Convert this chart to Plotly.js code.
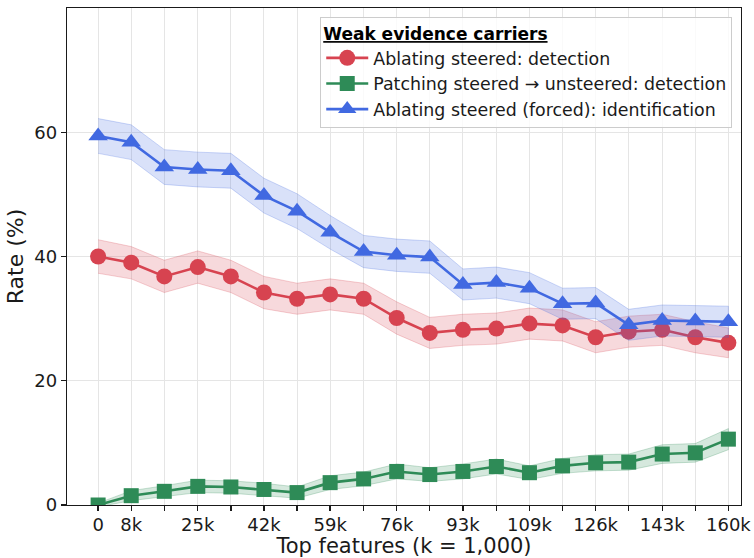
<!DOCTYPE html>
<html>
<head>
<meta charset="utf-8">
<script src="https://cdn.plot.ly/plotly-3.0.1.min.js"></script>
<style>
  html, body { margin: 0; padding: 0; background: #fff; }
  #chart { width: 754px; height: 558px; }
</style>
</head>
<body>
<div id="chart"></div>
<script>
// Number of top features removed/patched (in thousands)
const topFeaturesK = [0, 8.4, 16.8, 25.3, 33.7, 42.1, 50.5, 58.9, 67.4, 75.8,
                      84.2, 92.6, 101.1, 109.5, 117.9, 126.3, 134.7, 143.2, 151.6, 160];
const tickLabels = ['0', '8k', '', '25k', '', '42k', '', '59k', '', '76k',
                    '', '93k', '', '109k', '', '126k', '', '143k', '', '160k'];

// Rates (%) and confidence half-widths per condition
const ablateDetect = [40.0, 39.0, 36.8, 38.3, 36.8, 34.2, 33.2, 33.9, 33.2, 30.1,
                      27.7, 28.2, 28.4, 29.2, 28.9, 27.0, 27.9, 28.2, 27.0, 26.1];
const ablateDetectCI = [2.7, 2.6, 2.6, 2.6, 2.6, 2.6, 2.5, 2.5, 2.5, 2.6,
                        2.5, 2.5, 2.5, 2.5, 2.5, 2.5, 2.5, 2.5, 2.5, 2.4];

const patchDetect = [0.0, 1.5, 2.2, 3.0, 2.9, 2.5, 2.0, 3.6, 4.2, 5.4,
                     4.9, 5.4, 6.2, 5.2, 6.3, 6.8, 6.9, 8.2, 8.4, 10.6];
const patchDetectCI = [0.3, 0.8, 0.9, 1.0, 1.0, 1.0, 0.9, 1.1, 1.1, 1.2,
                       1.1, 1.2, 1.2, 1.1, 1.2, 1.3, 1.3, 1.5, 1.5, 1.7];

const ablateIdent = [59.4, 58.4, 54.4, 54.0, 53.8, 49.8, 47.3, 43.9, 40.8, 40.2,
                     39.9, 35.5, 35.8, 34.9, 32.4, 32.5, 29.0, 29.7, 29.6, 29.5];
const ablateIdentCI = [2.8, 2.8, 2.8, 2.8, 2.8, 2.8, 2.8, 2.7, 2.6, 2.6,
                       2.6, 2.5, 2.5, 2.5, 2.5, 2.5, 2.5, 2.5, 2.5, 2.5];

const seriesNames = ['Ablating steered: detection',
                     'Patching steered \u2192 unsteered: detection',
                     'Ablating steered (forced): identification'];

const FONT = 'DejaVu Sans, Liberation Sans, sans-serif';

function rgba(rgb, a) { return 'rgba(' + rgb.join(',') + ',' + a + ')'; }

// Shaded confidence band: upper edge forward, lower edge back
function band(values, ci, rgb) {
  const upper = values.map((v, i) => v + ci[i]);
  const lower = values.map((v, i) => v - ci[i]);
  return {
    x: topFeaturesK.concat(topFeaturesK.slice().reverse()),
    y: upper.concat(lower.slice().reverse()),
    type: 'scatter', mode: 'lines', fill: 'toself',
    fillcolor: rgba(rgb, 0.2),
    line: { color: rgba(rgb, 0.25), width: 1 },
    hoverinfo: 'skip', showlegend: false
  };
}

function line(values, name, rgb, symbol, size) {
  return {
    x: topFeaturesK, y: values, name: name,
    type: 'scatter', mode: 'lines+markers',
    line: { color: rgba(rgb, 1), width: 2.6 },
    marker: { color: rgba(rgb, 1), symbol: symbol, size: size }
  };
}

const red = [215, 67, 80];
const green = [46, 139, 87];
const blue = [65, 105, 225];

const data = [
  band(ablateDetect, ablateDetectCI, red),
  line(ablateDetect, seriesNames[0], red, 'circle', 16),
  band(patchDetect, patchDetectCI, green),
  line(patchDetect, seriesNames[1], green, 'square', 15),
  band(ablateIdent, ablateIdentCI, blue),
  line(ablateIdent, seriesNames[2], blue, 'triangle-up', 17)
];

const layout = {
  width: 754, height: 558,
  margin: { l: 67, r: 13, t: 8, b: 53 },
  paper_bgcolor: '#ffffff', plot_bgcolor: '#ffffff',
  font: { family: FONT, color: '#1a1a1a' },
  showlegend: true,
  xaxis: {
    range: [-7.9, 163.2],
    tickmode: 'array', tickvals: topFeaturesK, ticktext: tickLabels,
    ticks: 'outside', ticklen: 5, tickwidth: 1.3, tickcolor: '#1a1a1a',
    tickfont: { size: 18, family: FONT },
    ticklabelstandoff: -2,
    showgrid: true, gridcolor: '#e5e5e5', gridwidth: 1,
    showline: true, linecolor: '#1a1a1a', linewidth: 1.3, mirror: true,
    zeroline: false,
    title: { text: 'Top features (k = 1,000)', font: { size: 21, family: FONT }, standoff: 4 }
  },
  yaxis: {
    range: [0, 80],
    tickmode: 'array', tickvals: [0, 20, 40, 60],
    ticks: 'outside', ticklen: 5, tickwidth: 1.3, tickcolor: '#1a1a1a',
    tickfont: { size: 18, family: FONT },
    showgrid: true, gridcolor: '#e5e5e5', gridwidth: 1,
    showline: true, linecolor: '#1a1a1a', linewidth: 1.3, mirror: true,
    zeroline: false,
    title: { text: 'Rate (%)', font: { size: 22, family: FONT }, standoff: 4 }
  },
  legend: {
    x: 0.987, y: 0.982, xanchor: 'right', yanchor: 'top',
    bgcolor: 'rgba(255,255,255,0.8)', bordercolor: '#cccccc', borderwidth: 1,
    font: { size: 17.4, family: FONT, color: '#1a1a1a' },
    itemwidth: 42,
    title: { text: '<b><u>Weak evidence carriers</u></b>', font: { size: 17, family: FONT, color: '#000' } }
  }
};

Plotly.newPlot('chart', data, layout, { displayModeBar: false, staticPlot: true });
</script>
</body>
</html>
